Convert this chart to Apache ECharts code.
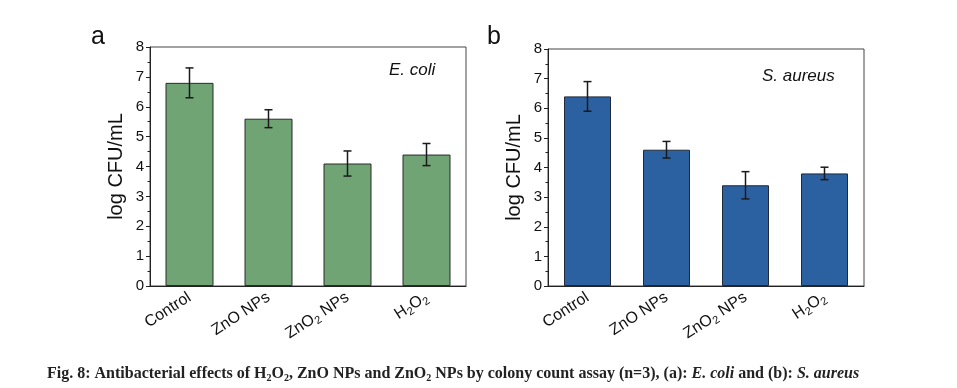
<!DOCTYPE html>
<html><head><meta charset="utf-8">
<script src="https://cdn.jsdelivr.net/npm/echarts@6/dist/echarts.min.js"></script>
<style>html,body{margin:0;padding:0;background:#fff}#c{width:957px;height:388px}</style>
</head><body><div id="c"></div>
<script>
var categories = ['Control', 'ZnO NPs', 'ZnO{s|2} NPs', 'H{s|2}O{s|2}'];
var ecoliValues = [6.8, 5.6, 4.1, 4.4];
var ecoliErr = [0.5, 0.3, 0.42, 0.37];
var aureusValues = [6.4, 4.6, 3.4, 3.8];
var aureusErr = [0.5, 0.28, 0.46, 0.21];
var yTicks = [0, 1, 2, 3, 4, 5, 6, 7, 8];

var chart = echarts.init(document.getElementById('c'), null, {renderer: 'canvas'});
var FONT = 'Liberation Sans, Arial, sans-serif';

function errSeries(idx, vals, errs) {
  return {
    type: 'custom', xAxisIndex: idx, yAxisIndex: idx, z: 5,
    data: vals.map(function (v, i) { return [i, v - errs[i], v + errs[i]]; }),
    renderItem: function (params, api) {
      var lo = api.coord([api.value(0), api.value(1)]);
      var hi = api.coord([api.value(0), api.value(2)]);
      var x = lo[0], w = 4;
      var st = {stroke: '#1a1a1a', lineWidth: 1.5};
      return {type: 'group', children: [
        {type: 'line', shape: {x1: x, y1: lo[1], x2: x, y2: hi[1]}, style: st},
        {type: 'line', shape: {x1: x - w, y1: lo[1], x2: x + w, y2: lo[1]}, style: st},
        {type: 'line', shape: {x1: x - w, y1: hi[1], x2: x + w, y2: hi[1]}, style: st}
      ]};
    }
  };
}

function xAx(idx) {
  return {
    type: 'category', gridIndex: idx, data: categories,
    axisLine: {lineStyle: {color: '#222', width: 1}},
    axisTick: {alignWithLabel: true, length: 4, lineStyle: {color: '#222'}},
    axisLabel: {
      rotate: 33, color: '#111', fontFamily: FONT, fontSize: 16, margin: 10, interval: 0,
      rich: {s: {fontSize: 11, fontFamily: FONT, color: '#111', padding: [9, 0, 0, 0]}}
    }
  };
}
function yAx(idx) {
  return {
    type: 'value', gridIndex: idx, min: 0, max: 8, interval: 1,
    name: 'log CFU/mL', nameLocation: 'middle', nameGap: 24,
    nameTextStyle: {fontFamily: FONT, fontSize: 20, color: '#111'},
    axisLine: {show: true, lineStyle: {color: '#222', width: 1}},
    axisTick: {show: true, length: 4, lineStyle: {color: '#222'}},
    minorTick: {show: true, splitNumber: 2, length: 2.5, lineStyle: {color: '#222'}},
    splitLine: {show: false},
    axisLabel: {color: '#111', fontFamily: FONT, fontSize: 15, margin: 6,
      formatter: function (v) { return yTicks.indexOf(v) >= 0 ? String(v) : ''; }}
  };
}

chart.setOption({
  animation: false,
  grid: [
    {left: 150, top: 47, width: 316, height: 239, show: true, borderColor: '#444', borderWidth: 1, backgroundColor: 'transparent'},
    {left: 548, top: 49, width: 316, height: 237, show: true, borderColor: '#444', borderWidth: 1, backgroundColor: 'transparent'}
  ],
  xAxis: [xAx(0), xAx(1)],
  yAxis: [yAx(0), yAx(1)],
  series: [
    {type: 'bar', xAxisIndex: 0, yAxisIndex: 0, data: ecoliValues, barWidth: 48,
      itemStyle: {color: '#70a474', borderColor: '#2a2a2a', borderWidth: 1}},
    errSeries(0, ecoliValues, ecoliErr),
    {type: 'bar', xAxisIndex: 1, yAxisIndex: 1, data: aureusValues, barWidth: 47,
      itemStyle: {color: '#2c61a1', borderColor: '#1e2a3a', borderWidth: 1}},
    errSeries(1, aureusValues, aureusErr)
  ],
  graphic: [
    {type: 'text', left: 91, top: 25, style: {text: 'a', font: '25px ' + FONT, fill: '#111'}},
    {type: 'text', left: 487, top: 25, style: {text: 'b', font: '25px ' + FONT, fill: '#111'}},
    {type: 'text', left: 389, top: 62, style: {text: 'E. coli', font: 'italic 17px ' + FONT, fill: '#111'}},
    {type: 'text', left: 762, top: 68, style: {text: 'S. aureus', font: 'italic 17px ' + FONT, fill: '#111'}},
    {type: 'text', left: 47, top: 366, style: {
      text: 'Fig. 8: Antibacterial effects of H{s|2}O{s|2}, ZnO NPs and ZnO{s|2} NPs by colony count assay (n=3), (a): {i|E. coli} and (b): {i|S. aureus}',
      font: 'bold 16px Liberation Serif, Times New Roman, serif', fill: '#222',
      rich: {
        s: {font: 'bold 10px Liberation Serif, serif', fill: '#222', padding: [8, 0, 0, 0]},
        i: {font: 'italic bold 16px Liberation Serif, serif', fill: '#222'}
      }
    }}
  ]
});
</script></body></html>
